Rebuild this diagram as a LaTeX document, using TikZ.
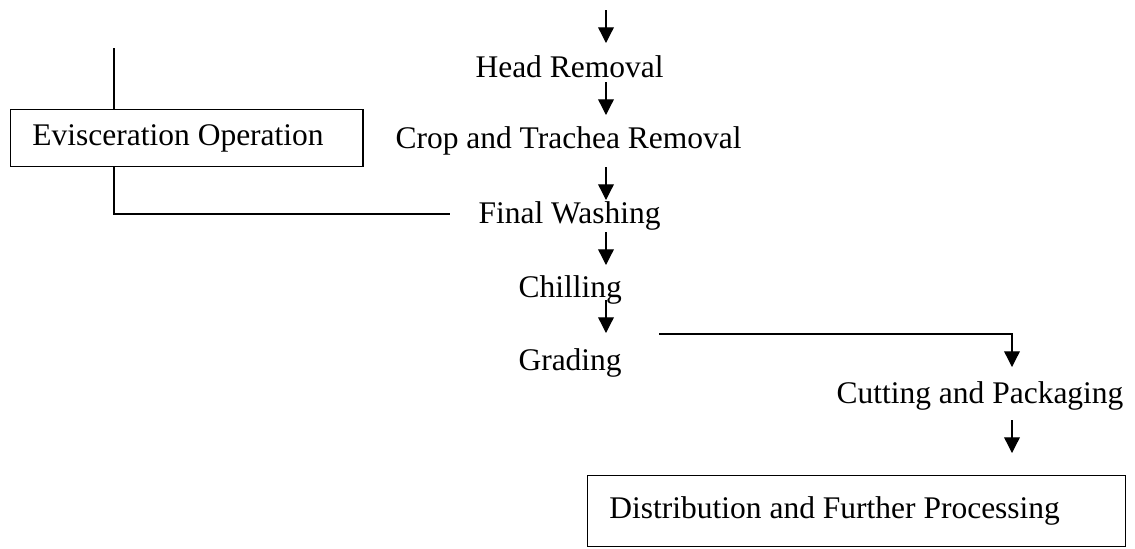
\documentclass[tikz,border=0pt]{standalone}
\usepackage{fontspec}
\setmainfont{Liberation Serif}
\usetikzlibrary{arrows.meta,calc}
\begin{document}
\begin{tikzpicture}[x=0.381pt,y=-0.381pt,
  every node/.style={font=\fontsize{12}{14}\selectfont},
  lbl/.style={inner sep=0pt,anchor=base west},
  boxnode/.style={draw,line width=0.5pt,anchor=north west,inner xsep=8.3pt,inner ysep=0pt},
  ln/.style={line width=0.5pt},
  arr/.style={line width=0.5pt,-{Triangle[width=6pt,length=6pt]}}]
\useasboundingbox (0,0) rectangle (1135,548);
% spine coordinates
\coordinate (sp) at (606,0);
\coordinate (rx) at (1012,0);
\coordinate (s1) at (606,10);
\coordinate (l1) at (114,48);
% text nodes
\node[lbl] (head) at (475,77) {Head Removal};
\node[lbl] (crop) at (395,148) {Crop and Trachea Removal};
\node[lbl] (final) at (478,223) {Final Washing};
\node[lbl] (chill) at (518,297) {Chilling};
\node[lbl] (grad) at (518,370) {Grading};
\node[lbl] (cut) at (836,403) {Cutting and Packaging};
% boxes
\node[boxnode,minimum height=21.7pt] (ev) at (10,109) {\makebox[117.7pt][l]{Evisceration Operation}};
\node[boxnode,minimum height=27pt] (dist) at (587,475) {\makebox[188.2pt][l]{Distribution and Further Processing}};
% main arrows
\draw[arr] (s1) -- ($(head.base -| sp)+(0,-34)$);
\draw[arr] ($(head.base -| sp)+(0,5)$) -- ($(crop.base -| sp)+(0,-33)$);
\draw[arr] ($(crop.base -| sp)+(0,19)$) -- ($(final.base -| sp)+(0,-23)$);
\draw[arr] ($(final.base -| sp)+(0,9)$) -- ($(chill.base -| sp)+(0,-32)$);
\draw[arr] ($(chill.base -| sp)+(0,3)$) -- ($(grad.base -| sp)+(0,-37)$);
% branch to cutting
\draw[arr] ($(grad.base east)+(37,-36)$) -| ($(cut.base -| rx)+(0,-36)$);
\draw[arr] ($(cut.base -| rx)+(0,17)$) -- ($(dist.north -| rx)+(0,-22)$);
% evisceration lines
\draw[ln] (l1) -- (l1 |- ev.north);
\draw[ln] (ev.south -| l1) |- ($(final.base west)+(-28,-9)$);
\end{tikzpicture}
\end{document}
